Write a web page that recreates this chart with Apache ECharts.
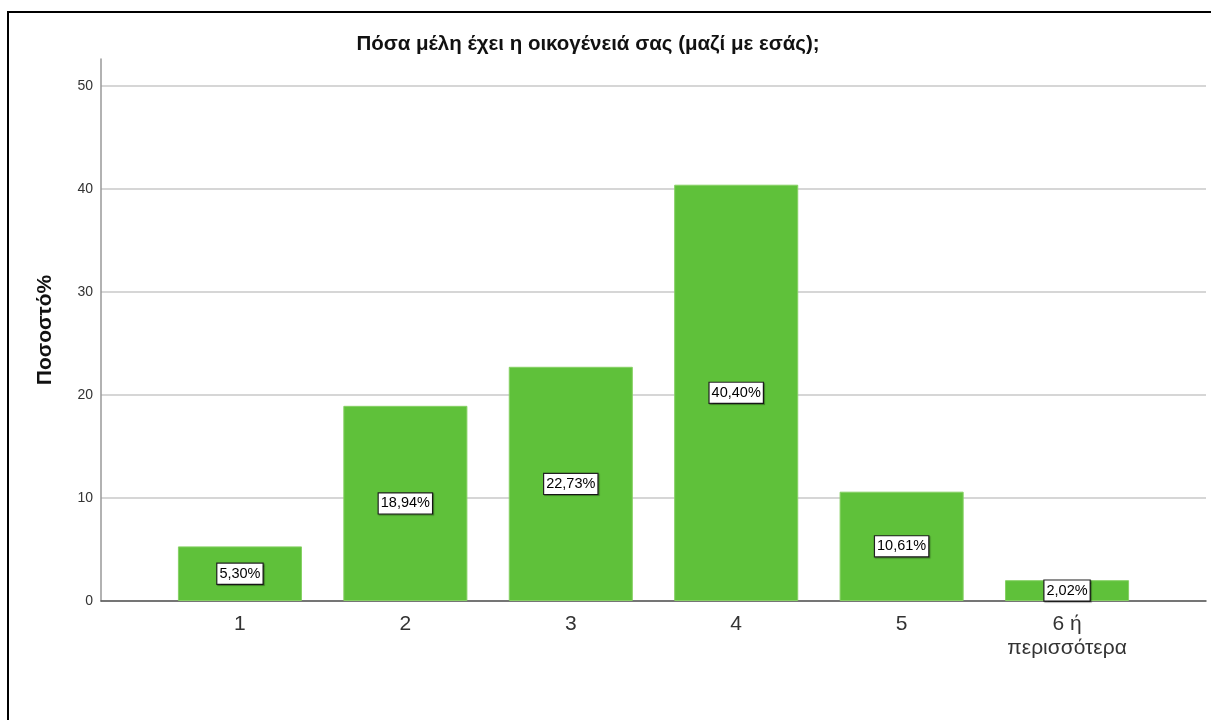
<!DOCTYPE html>
<html>
<head>
<meta charset="utf-8">
<script src="https://cdn.jsdelivr.net/npm/echarts@6/dist/echarts.min.js"></script>
<style>
  html, body { margin: 0; padding: 0; background: #fff; }
  #chart { position: absolute; left: 0; top: 0; width: 1211px; height: 720px; }
  #frame { position: absolute; left: 7px; top: 11px; width: 1220px; height: 720px;
           border-left: 2px solid #000; border-top: 2px solid #000; pointer-events: none; }
</style>
</head>
<body>
<div id="chart"></div>
<div id="frame"></div>
<script>
// Household size survey: share of respondents per number of family members
const categories = ['1', '2', '3', '4', '5', '6 ή\nπερισσότερα'];
const percentages = [5.30, 18.94, 22.73, 40.40, 10.61, 2.02];
const yTicks = [0, 10, 20, 30, 40, 50];

const FONT = '"Liberation Sans", Arial, Helvetica, sans-serif';

// categories sit at positions 1..n on a numeric x axis
const positions = categories.map((_, i) => i + 1);
const barData = percentages.map((v, i) => [positions[i], v]);

const chart = echarts.init(document.getElementById('chart'), null, { renderer: 'canvas' });

chart.setOption({
  backgroundColor: '#fff',
  animation: false,
  title: {
    text: 'Πόσα μέλη έχει η οικογένειά σας (μαζί με εσάς);',
    left: 583,
    textAlign: 'center',
    top: 29,
    textStyle: { fontFamily: FONT, fontSize: 20.5, fontWeight: 'bold', color: '#111' }
  },
  grid: { left: 101, right: 5, top: 59, bottom: 119, containLabel: false },
  xAxis: {
    type: 'value',
    min: 0.16,
    max: 6.84,
    splitLine: { show: false },
    axisTick: { show: false },
    axisLine: { show: true, onZero: false, lineStyle: { color: '#555', width: 1.5 } },
    axisLabel: {
      customValues: positions,
      formatter: (v) => categories[Math.round(v) - 1] || '',
      fontFamily: FONT,
      fontSize: 21,
      lineHeight: 24,
      color: '#333',
      margin: 11
    }
  },
  yAxis: {
    type: 'value',
    min: 0,
    max: 52.6,
    axisLine: { show: true, lineStyle: { color: '#999', width: 1.5 } },
    axisTick: { show: false },
    splitLine: { show: true, showMaxLine: false, lineStyle: { color: '#d6d6d6', width: 2 } },
    axisLabel: {
      customValues: yTicks,
      fontFamily: FONT,
      fontSize: 14,
      color: '#333',
      margin: 8
    },
    name: 'Ποσοστό%',
    nameLocation: 'middle',
    nameRotate: 90,
    nameGap: 45,
    nameTextStyle: { fontFamily: FONT, fontSize: 21, fontWeight: 'bold', color: '#111' }
  },
  series: [{
    type: 'bar',
    data: barData,
    barWidth: '75%',
    itemStyle: { color: '#5fc13a', borderColor: '#86d064', borderWidth: 1 },
    label: {
      show: true,
      position: 'inside',
      formatter: (p) => p.value[1].toFixed(2).replace('.', ',') + '%',
      fontFamily: FONT,
      fontSize: 14.5,
      color: '#000',
      backgroundColor: '#fff',
      borderColor: '#222',
      borderWidth: 1.2,
      padding: [3, 2, 2, 2],
      shadowColor: 'rgba(0,0,0,0.35)',
      shadowOffsetX: 1,
      shadowOffsetY: 1,
      shadowBlur: 1
    }
  }]
});
</script>
</body>
</html>
